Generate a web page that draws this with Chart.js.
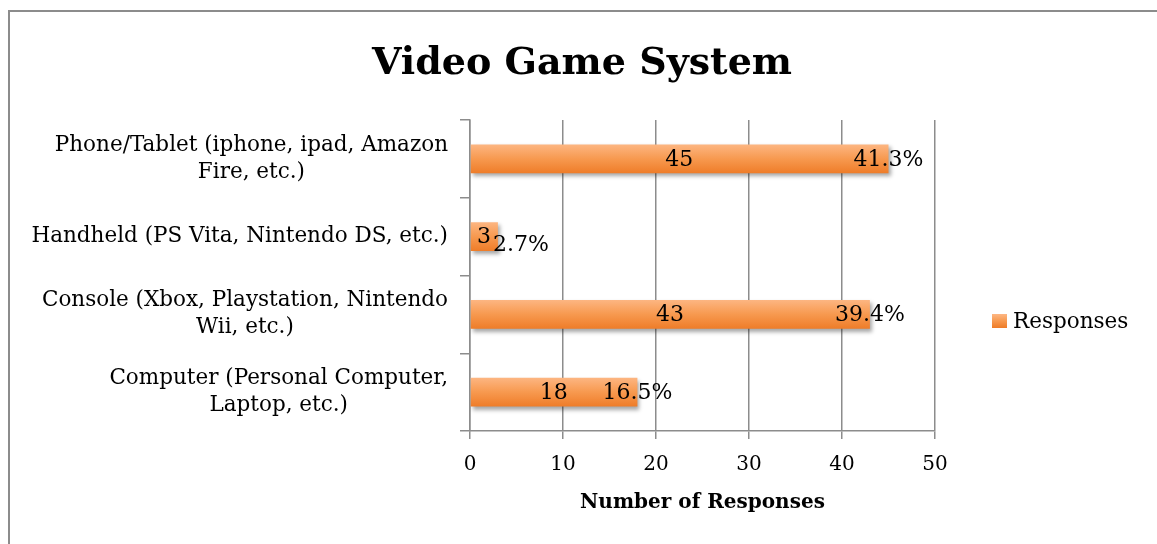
<!DOCTYPE html>
<html>
<head>
  <title>Video Game System</title>
  <script src="https://cdn.jsdelivr.net/npm/chart.js"></script>
  <style>
    html, body { margin: 0; padding: 0; background: #fff; overflow: hidden; }
    #wrap { position: relative; width: 1157px; height: 544px; overflow: hidden; }
    #frame { position: absolute; left: 8px; top: 10px; width: 1300px; height: 700px;
             border-left: 2px solid #8c8c8c; border-top: 2px solid #8c8c8c; pointer-events: none; }
  </style>
</head>
<body>
  <div id="wrap">
    <canvas id="chart" width="1157" height="544"></canvas>
    <div id="frame"></div>
  </div>
  <script>
    // data (top to bottom)
    var categories = [
      ['Phone/Tablet (iphone, ipad, Amazon', 'Fire, etc.)'],
      ['Handheld (PS Vita, Nintendo DS, etc.)'],
      ['Console (Xbox, Playstation, Nintendo', 'Wii, etc.)'],
      ['Computer (Personal Computer,', 'Laptop, etc.)']
    ];
    var responses = [45, 3, 43, 18];
    var percents = [41.3, 2.7, 39.4, 16.5];
    var xTicks = [0, 10, 20, 30, 40, 50];

    var FONT = '"DejaVu Serif", serif';
    var GRID = '#8c8c8c';

    function barGradient(ctx, top, bottom) {
      var g = ctx.createLinearGradient(0, top, 0, bottom);
      g.addColorStop(0, '#fdb784');
      g.addColorStop(0.5, '#f7994f');
      g.addColorStop(1, '#ee7b27');
      return g;
    }

    // bar fill: vertical gradient per bar, using the y scale
    function fillFor(context) {
      var chart = context.chart;
      var y = chart.scales.y;
      if (!y || !chart.chartArea) return '#f48a3a';
      var c = y.getPixelForValue(context.dataIndex);
      return barGradient(chart.ctx, c - 15, c + 15);
    }

    var extras = {
      id: 'extras',
      beforeDatasetsDraw: function (chart) {
        var ctx = chart.ctx;
        ctx.save();
        ctx.shadowColor = 'rgba(0,0,0,0.35)';
        ctx.shadowBlur = 4;
        ctx.shadowOffsetX = 2;
        ctx.shadowOffsetY = 3;
      },
      afterDatasetsDraw: function (chart) {
        var ctx = chart.ctx;
        ctx.restore();
        var meta = chart.getDatasetMeta(0);
        var x0 = chart.scales.x.getPixelForValue(0);
        ctx.save();
        ctx.fillStyle = '#000';
        ctx.textBaseline = 'middle';

        // title, centred on the whole frame
        ctx.font = 'bold 38px ' + FONT;
        ctx.textAlign = 'center';
        ctx.fillText('Video Game System', 582, 64);

        ctx.font = '22px ' + FONT;
        meta.data.forEach(function (bar, i) {
          var cx = (x0 + bar.x) / 2;
          var vText = String(responses[i]);
          var vw = ctx.measureText(vText).width;
          ctx.textAlign = 'center';
          ctx.fillText(vText, cx, bar.y + 1);
          var pText = percents[i].toFixed(1) + '%';
          var pw = ctx.measureText(pText).width;
          if (bar.x - pw / 2 < cx + vw / 2 + 4) {
            ctx.textAlign = 'left';
            ctx.fillText(pText, cx + vw / 2 + 2, bar.y + 9);
          } else {
            ctx.textAlign = 'center';
            ctx.fillText(pText, bar.x, bar.y + 1);
          }
        });

        // category labels: block right-aligned, lines centred within block
        ctx.font = '21.5px ' + FONT;
        var yScale = chart.scales.y;
        var right = yScale.left - 10;
        categories.forEach(function (lines, i) {
          var w = 0;
          lines.forEach(function (l) { w = Math.max(w, ctx.measureText(l).width); });
          var c = yScale.getPixelForValue(i);
          var lh = 27;
          var top = c - (lines.length - 1) * lh / 2;
          ctx.textAlign = 'center';
          lines.forEach(function (l, k) {
            ctx.fillText(l, right - w / 2, top + k * lh);
          });
        });

        // legend
        var lx = 992, ly = 321;
        ctx.fillStyle = barGradient(ctx, ly - 7, ly + 7);
        ctx.fillRect(lx, ly - 7, 15, 14);
        ctx.fillStyle = '#000';
        ctx.textAlign = 'left';
        ctx.fillText('Responses', lx + 21, ly + 1);
        ctx.restore();
      }
    };

    new Chart(document.getElementById('chart'), {
      type: 'bar',
      data: {
        labels: categories,
        datasets: [{
          label: 'Responses',
          data: responses,
          backgroundColor: fillFor,
          borderWidth: 0,
          barPercentage: 0.37,
          categoryPercentage: 1.0
        }]
      },
      options: {
        indexAxis: 'y',
        responsive: false,
        animation: false,
        layout: { padding: { left: 458, right: 222, top: 120, bottom: 29 } },
        plugins: {
          legend: { display: false },
          tooltip: { enabled: false },
          title: { display: false }
        },
        scales: {
          x: {
            min: 0,
            max: 50,
            afterBuildTicks: function (scale) {
              scale.ticks = xTicks.map(function (v) { return { value: v }; });
            },
            grid: { color: GRID, lineWidth: 1.5, tickLength: 8 },
            border: { color: GRID, width: 1.5 },
            ticks: { color: '#000', padding: 14, font: { family: FONT, size: 20 } },
            title: {
              display: true,
              text: 'Number of Responses',
              color: '#000',
              font: { family: FONT, size: 20, weight: 'bold' },
              padding: { top: 0, bottom: 0 }
            }
          },
          y: {
            offset: true,
            afterFit: function (scale) { scale.width = 12; },
            grid: { color: GRID, lineWidth: 1.5, tickLength: 10, offset: true, drawOnChartArea: false },
            border: { color: GRID, width: 1.5 },
            ticks: { display: false }
          }
        }
      },
      plugins: [extras]
    });
  </script>
</body>
</html>
